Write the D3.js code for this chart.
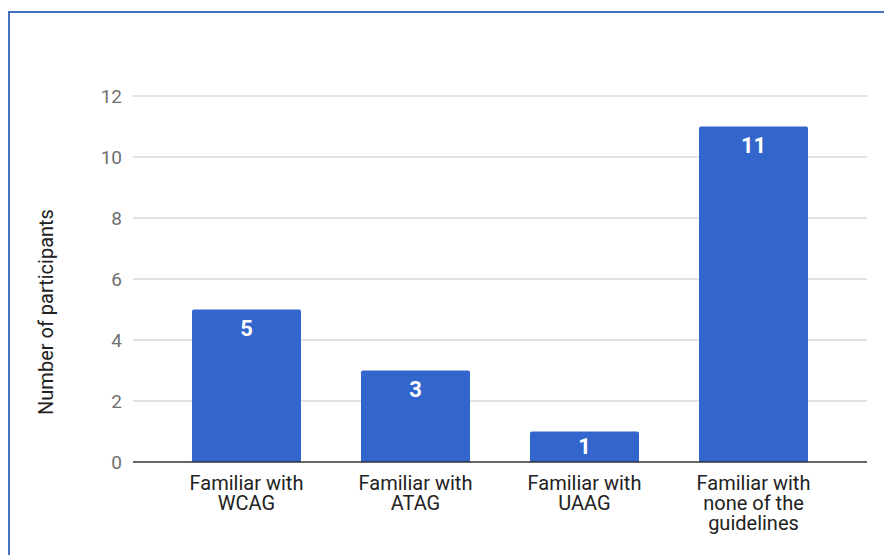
<!DOCTYPE html>
<html>
<head>
<meta charset="utf-8">
<script src="https://cdn.jsdelivr.net/npm/d3@7"></script>
<style>
  html, body { margin: 0; padding: 0; background: #fff; }
  svg { display: block; font-family: Roboto, "Noto Sans", Arial, sans-serif; }
</style>
</head>
<body>
<svg id="chart" width="884" height="555"></svg>
<script>
const categories = [
  ["Familiar with", "WCAG"],
  ["Familiar with", "ATAG"],
  ["Familiar with", "UAAG"],
  ["Familiar with", "none of the", "guidelines"]
];
const participants = [5, 3, 1, 11];
const yTicks = [0, 2, 4, 6, 8, 10, 12];
const yTitle = "Number of participants";

const svg = d3.select("#chart");

// frame around the chart
svg.append("rect")
  .attr("x", 9).attr("y", 12)
  .attr("width", 900).attr("height", 600)
  .attr("fill", "none")
  .attr("stroke", "#4472c4")
  .attr("stroke-width", 2);

const gridLeft = 133, gridRight = 867;
const y = d3.scaleLinear().domain([0, 12]).range([462, 96]);
const x = d3.scaleBand()
  .domain(d3.range(categories.length))
  .range([162, 838])
  .paddingInner(0.355)
  .paddingOuter(0.1775);

// gridlines
svg.append("g").selectAll("line")
  .data(yTicks.filter(t => t !== 0))
  .join("line")
  .attr("x1", gridLeft).attr("x2", gridRight)
  .attr("y1", d => y(d)).attr("y2", d => y(d))
  .attr("stroke", "#d9d9d9")
  .attr("stroke-width", 1.5);

// y tick labels
svg.append("g").selectAll("text")
  .data(yTicks)
  .join("text")
  .attr("x", 122)
  .attr("y", d => y(d))
  .attr("dy", "0.36em")
  .attr("text-anchor", "end")
  .attr("fill", "#707070")
  .attr("font-size", 19)
  .text(d => d);

// y axis title
svg.append("text")
  .attr("transform", `translate(53,${(y(0) + y(12)) / 2 + 33}) rotate(-90)`)
  .attr("text-anchor", "middle")
  .attr("fill", "#222")
  .attr("font-size", 20)
  .text(yTitle);

// bars with slightly rounded tops
const r = 2;
function barPath(i, v) {
  const x0 = x(i), x1 = x(i) + x.bandwidth();
  const yt = y(v), yb = y(0);
  return `M${x0},${yb}V${yt + r}Q${x0},${yt} ${x0 + r},${yt}H${x1 - r}Q${x1},${yt} ${x1},${yt + r}V${yb}Z`;
}
svg.append("g").selectAll("path")
  .data(participants)
  .join("path")
  .attr("d", (v, i) => barPath(i, v))
  .attr("fill", "#3366cc");

// value labels: near the top of the bar, centred in short bars
svg.append("g").selectAll("text")
  .data(participants)
  .join("text")
  .attr("x", (v, i) => x(i) + x.bandwidth() / 2)
  .attr("y", v => Math.min(y(v) + 26.5, (y(v) + y(0)) / 2 + 7))
  .attr("text-anchor", "middle")
  .attr("fill", "#fff")
  .attr("font-weight", "bold")
  .attr("font-size", 22)
  .text(v => v);

// baseline
svg.append("line")
  .attr("x1", gridLeft).attr("x2", gridRight)
  .attr("y1", y(0)).attr("y2", y(0))
  .attr("stroke", "#333")
  .attr("stroke-width", 1.5);

// category labels
const xl = svg.append("g").selectAll("text")
  .data(categories)
  .join("text")
  .attr("x", (d, i) => x(i) + x.bandwidth() / 2)
  .attr("y", 490)
  .attr("text-anchor", "middle")
  .attr("fill", "#222")
  .attr("font-size", 20);
xl.selectAll("tspan")
  .data(d => d)
  .join("tspan")
  .attr("x", function () { return d3.select(this.parentNode).attr("x"); })
  .attr("dy", (d, j) => j === 0 ? 0 : 20)
  .text(d => d);
</script>
</body>
</html>
